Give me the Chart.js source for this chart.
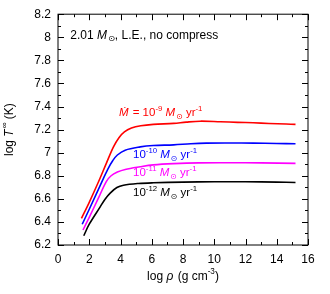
<!DOCTYPE html>
<html>
<head>
<meta charset="utf-8">
<script src="https://cdn.jsdelivr.net/npm/chart.js@4"></script>
<style>
  html, body { margin: 0; padding: 0; background: #fff; }
  #wrap { width: 330px; height: 294px; }
</style>
</head>
<body>
<div id="wrap"><canvas id="c" width="330" height="294"></canvas></div>
<script>
// ── data ──
const rhoRed  = [1.5, 2.0, 2.6, 3.1, 3.55, 3.9, 4.25, 4.7, 5.3, 6.1, 7.4, 8.2, 9.1, 10.4, 11.5, 12.5, 13.5, 14.6, 15.2];
const tRed    = [6.43, 6.57, 6.75, 6.91, 7.05, 7.13, 7.18, 7.213, 7.233, 7.245, 7.254, 7.265, 7.273, 7.268, 7.263, 7.259, 7.253, 7.248, 7.245];

const rhoBlue = [1.55, 2.0, 2.85, 3.2, 3.5, 3.8, 4.3, 5.26, 6.1, 7.4, 8.5, 9.5, 11, 12.5, 14, 15.2];
const tBlue   = [6.38, 6.51, 6.76, 6.86, 6.93, 6.98, 7.022, 7.05, 7.062, 7.068, 7.078, 7.083, 7.084, 7.083, 7.08, 7.077];

const rhoMag  = [1.6, 2.0, 2.6, 3.09, 3.4, 3.8, 4.3, 5.26, 6.1, 7.4, 9, 11, 13, 15.2];
const tMag    = [6.33, 6.44, 6.61, 6.75, 6.8, 6.832, 6.855, 6.878, 6.894, 6.905, 6.912, 6.913, 6.912, 6.907];

const rhoBlk  = [1.65, 2.0, 2.7, 3.0, 3.34, 3.77, 4.19, 5.15, 6.1, 8, 10, 12, 14, 15.2];
const tBlk    = [6.28, 6.38, 6.53, 6.595, 6.65, 6.698, 6.718, 6.733, 6.739, 6.745, 6.748, 6.748, 6.745, 6.742];

const xRange = [0, 16];
const yRange = [6.2, 8.2];

const FONT = '"Liberation Sans", Arial, "DejaVu Sans", sans-serif';

function pts(xs, ys) {
  return xs.map((x, i) => ({ x: x, y: ys[i] }));
}

function series(xs, ys, color) {
  return {
    data: pts(xs, ys),
    borderColor: color,
    borderWidth: 1.6,
    pointRadius: 0,
    showLine: true,
    fill: false,
    tension: 0.35,
  };
}

// rich text: parts = [{t, it, sup, sub}]
function drawRich(ctx, parts, x, y, color, size, measureOnly) {
  ctx.save();
  ctx.fillStyle = color;
  ctx.textBaseline = 'middle';
  ctx.textAlign = 'left';
  let cx = x;
  parts.forEach(p => {
    let fs = size, dy = 0;
    if (p.sup) { fs = size * 0.68; dy = -size * 0.4; }
    if (p.sub) { fs = size * 0.68; dy = size * 0.3; }
    ctx.font = (p.it ? 'italic ' : '') + fs + 'px ' + FONT;
    if (!measureOnly) ctx.fillText(p.t, cx, y + dy);
    cx += ctx.measureText(p.t).width + (p.it ? 1 : 0);
  });
  ctx.restore();
  return cx - x;
}

const Msun = [{ t: 'M', it: true }, { t: '\u2299', sub: true }];
const perYr = Msun.concat([{ t: ' yr' }, { t: '-1', sup: true }]);

const decor = {
  id: 'decor',
  afterDraw(chart) {
    const ctx = chart.ctx;
    const a = chart.chartArea;
    const xs = chart.scales.x, ys = chart.scales.y;

    // frame
    ctx.save();
    ctx.strokeStyle = '#000';
    ctx.lineWidth = 1;
    ctx.strokeRect(a.left, a.top, a.right - a.left, a.bottom - a.top);

    // inward ticks on all sides
    ctx.beginPath();
    for (let v = xRange[0]; v <= xRange[1]; v += 1) {
      const px = Math.round(xs.getPixelForValue(v)) + 0.5;
      const len = v % 2 === 0 ? 6 : 3;
      ctx.moveTo(px, a.bottom); ctx.lineTo(px, a.bottom - len);
      ctx.moveTo(px, a.top); ctx.lineTo(px, a.top + len);
    }
    for (let k = 0; k <= 20; k++) {
      const v = yRange[0] + k * 0.1;
      const py = Math.round(ys.getPixelForValue(v)) + 0.5;
      const len = k % 2 === 0 ? 6 : 3;
      ctx.moveTo(a.left, py); ctx.lineTo(a.left + len, py);
      ctx.moveTo(a.right, py); ctx.lineTo(a.right - len, py);
    }
    ctx.stroke();
    ctx.restore();

    const X = v => xs.getPixelForValue(v);
    const Y = v => ys.getPixelForValue(v);

    // annotations
    drawRich(ctx, [{ t: '2.01 ' }].concat(Msun, [{ t: ', L.E., no compress' }]), X(0.79), Y(8.018), '#000', 12);
    drawRich(ctx, [{ t: '\u1E40', it: true }, { t: ' = 10' }, { t: '-9', sup: true }, { t: ' ' }].concat(perYr),
      X(3.9), Y(7.343), '#ff0000', 11.5);
    drawRich(ctx, [{ t: '10' }, { t: '-10', sup: true }, { t: ' ' }].concat(perYr), X(4.8), Y(6.98), '#0000ff', 11.5);
    drawRich(ctx, [{ t: '10' }, { t: '-11', sup: true }, { t: ' ' }].concat(perYr), X(4.8), Y(6.823), '#ff00ff', 11.5);
    drawRich(ctx, [{ t: '10' }, { t: '-12', sup: true }, { t: ' ' }].concat(perYr), X(4.8), Y(6.65), '#000', 11.5);

    // axis titles
    const xt = [{ t: 'log ' }, { t: '\u03C1', it: true }, { t: ' (g cm' }, { t: '-3', sup: true }, { t: ')' }];
    const w1 = drawRich(ctx, xt, 0, 0, '#000', 12, true);
    drawRich(ctx, xt, (a.left + a.right) / 2 - w1 / 2, 277, '#000', 12);

    const yt = [{ t: 'log ' }, { t: 'T', it: true }, { t: '\u221E', sup: true }, { t: ' (K)' }];
    const w2 = drawRich(ctx, yt, 0, 0, '#000', 12, true);
    ctx.save();
    ctx.translate(10, (a.top + a.bottom) / 2);
    ctx.rotate(-Math.PI / 2);
    drawRich(ctx, yt, -w2 / 2, 0, '#000', 12);
    ctx.restore();
  }
};

new Chart(document.getElementById('c').getContext('2d'), {
  type: 'scatter',
  data: {
    datasets: [
      series(rhoRed, tRed, '#ff0000'),
      series(rhoBlue, tBlue, '#0000ff'),
      series(rhoMag, tMag, '#ff00ff'),
      series(rhoBlk, tBlk, '#000000'),
    ]
  },
  options: {
    responsive: false,
    animation: false,
    layout: { padding: { left: 0, right: 22, top: 14, bottom: 0 } },
    plugins: { legend: { display: false }, tooltip: { enabled: false } },
    scales: {
      x: {
        type: 'linear',
        min: xRange[0], max: xRange[1],
        grid: { display: false, drawTicks: false },
        border: { display: false },
        ticks: { stepSize: 2, color: '#000', padding: 7, font: { family: FONT, size: 12 } },
        afterFit(s) { s.height = 49; }
      },
      y: {
        type: 'linear',
        min: yRange[0], max: yRange[1],
        grid: { display: false, drawTicks: false },
        border: { display: false },
        ticks: {
          stepSize: 0.2, color: '#000', padding: 7, font: { family: FONT, size: 12 },
          callback: v => String(+v.toFixed(1))
        },
        afterFit(s) { s.width = 58; }
      }
    }
  },
  plugins: [decor]
});
</script>
</body>
</html>
